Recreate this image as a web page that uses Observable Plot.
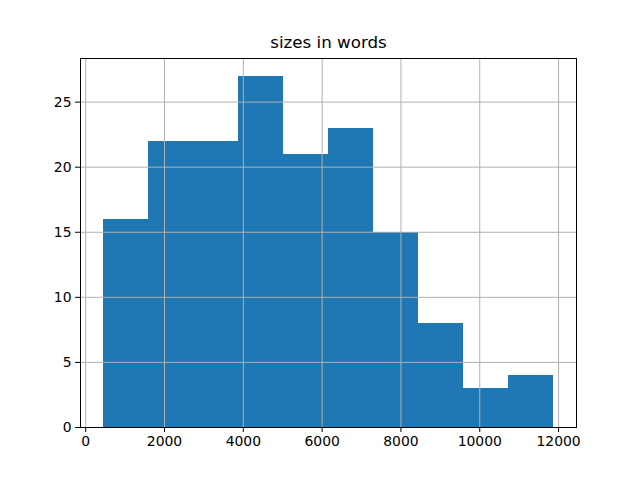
<!DOCTYPE html>
<html>
<head>
<meta charset="utf-8">
<script src="https://cdn.jsdelivr.net/npm/d3@7"></script>
<script src="https://cdn.jsdelivr.net/npm/@observablehq/plot@0.6"></script>
<style>
  html, body { margin: 0; padding: 0; background: #fff; }
  svg { font-family: "DejaVu Sans", sans-serif; }
</style>
</head>
<body>
<div id="chart"></div>
<script>
const title = "sizes in words";
const binEdges = [440, 1584, 2729, 3873, 5017, 6162, 7306, 8450, 9595, 10739, 11883];
const counts = [16, 22, 22, 27, 21, 23, 15, 8, 3, 4];
const xTicks = [0, 2000, 4000, 6000, 8000, 10000, 12000];
const yTicks = [0, 5, 10, 15, 20, 25];

const bins = counts.map((c, i) => ({x1: binEdges[i], x2: binEdges[i + 1], count: c}));

const chart = Plot.plot({
  width: 640,
  height: 480,
  marginLeft: 80,
  marginRight: 64,
  marginTop: 58,
  marginBottom: 53,
  style: {fontFamily: "DejaVu Sans, sans-serif", fontSize: "13.9px", color: "#000", background: "#fff"},
  x: {domain: [-132, 12455]},
  y: {domain: [0, 28.35]},
  marks: [
    Plot.rect(bins, {x1: "x1", x2: "x2", y1: 0, y2: "count", fill: "#1f77b4", shapeRendering: "crispEdges"}),
    Plot.gridX(xTicks, {stroke: "#b0b0b0", strokeOpacity: 1, strokeWidth: 1}),
    Plot.gridY(yTicks, {stroke: "#b0b0b0", strokeOpacity: 1, strokeWidth: 1}),
    Plot.axisX(xTicks, {tickSize: 5, tickPadding: 4, label: null, fontSize: 13.9, tickFormat: d => String(d)}),
    Plot.axisY(yTicks, {tickSize: 5, tickPadding: 4, label: null, fontSize: 13.9}),
    Plot.frame({stroke: "#000", strokeWidth: 1}),
    Plot.text([title], {frameAnchor: "top", dy: -11, lineAnchor: "bottom", fontSize: 16.7, fill: "#000"})
  ]
});
document.getElementById("chart").appendChild(chart);
</script>
</body>
</html>
